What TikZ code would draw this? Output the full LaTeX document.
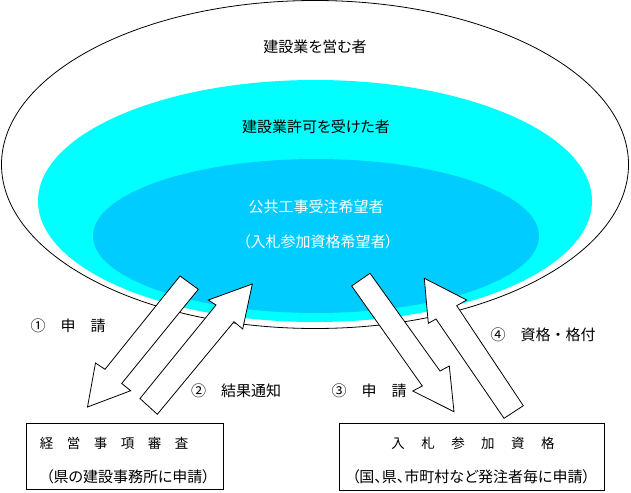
\documentclass[tikz,border=0pt]{standalone}
\usepackage{fontspec}
\setmainfont[RawFeature=+palt]{Noto Sans CJK JP}
\usepackage{tikz}
\definecolor{ringcyan}{HTML}{00FFFF}
\definecolor{coreblue}{HTML}{00CCFF}
\tikzset{
  lbl/.style={font=\fontsize{15}{18}\selectfont, inner sep=0pt},
  smalllbl/.style={font=\fontsize{13.5}{16}\selectfont, inner sep=0pt},
  fatarrow/.style={draw=black, fill=white, line width=0.8pt, line join=miter},
  infobox/.style={draw=black, fill=white, line width=0.8pt, inner sep=0pt},
}

\begin{document}
\begin{tikzpicture}[x=1pt,y=-1pt]
        \useasboundingbox (0,0) rectangle (631,492);
        \draw[fill=white, line width=0.8pt] (315,164.5) ellipse [x radius=313.5pt, y radius=164pt];
        \fill[ringcyan] (315,201) ellipse [x radius=277pt, y radius=121pt];
        \fill[coreblue] (316,236) ellipse [x radius=223pt, y radius=77pt];
        \node[lbl] (whole) at (315,47) {建設業を営む者};
        \node[lbl] (permit) at (316,127) {建設業許可を受けた者};
        \node[lbl, white] (public) at (316,207) {公共工事受注希望者};
        \node[lbl, white] (bidder) at (318,242) {（入札参加資格希望者）};
        
        \draw[fatarrow] (180,276) -- (198.3,289.3) -- (121.7,383.5) -- (130.7,390.7) -- (87.5,407) -- (95.5,363) -- (105,369.3) -- cycle;
        \draw[fatarrow] (140,398.5) -- (157.3,414.3) -- (234,321.7) -- (242.7,329) -- (252.3,284) -- (208.3,300) -- (216,305) -- cycle;
        \draw[fatarrow] (351.7,286) -- (370,273.3) -- (440,371) -- (449.3,366) -- (454,411.7) -- (412.7,391) -- (422.3,386) -- cycle;
        \draw[fatarrow] (523.3,405.7) -- (504,418.3) -- (436,319) -- (428.3,323.3) -- (424.3,278.3) -- (466.7,300) -- (456.7,305.7) -- cycle;
        
        \node[lbl] (step1) at (68,326) {①　申　請};
        \node[lbl] (step2) at (236,391) {②　結果通知};
        \node[lbl] (step3) at (369,391) {③　申　請};
        \node[lbl] (step4) at (543,335) {④　資格\makebox[15pt]{・}格付};
        
        \node[infobox, minimum width=196.6pt, minimum height=66pt] (review) at (125,456) {};
        \node[smalllbl] (reviewtitle) at (114,443) {経　営　事　項　審　査};
        \node[lbl] (reviewnote) at (128,477) {（県の建設事務所に申請）};
        
        \node[infobox, minimum width=264.7pt, minimum height=67pt] (qualify) at (471.7,456.5) {};
        \node[smalllbl] (qualifytitle) at (473,443) {\addfontfeature{LetterSpace=11}入　札　参　加　資　格};
        \node[lbl] (qualifynote) at (471,477) {（国、県、市町村など発注者毎に申請）};
    \end{tikzpicture}
\end{document}
